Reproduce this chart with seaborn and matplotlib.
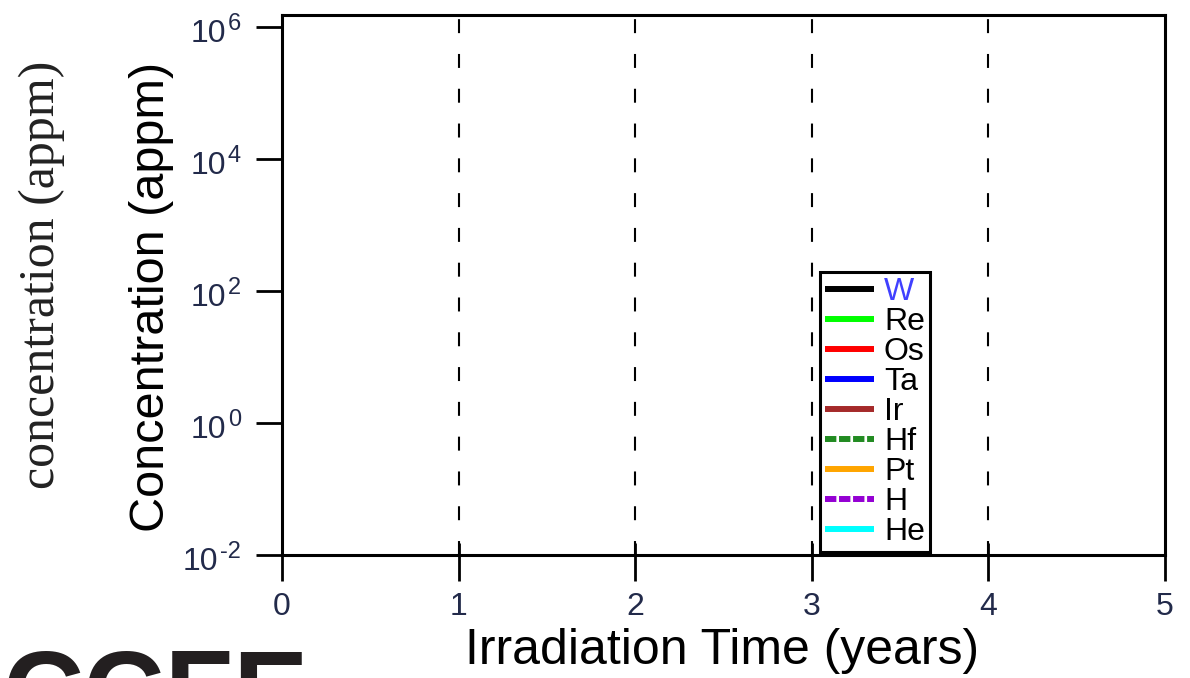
import matplotlib
matplotlib.use("Agg")
import matplotlib.pyplot as plt
from matplotlib.ticker import FixedLocator, NullLocator, NullFormatter
import seaborn as sns

# Nuclides tracked in the inventory and their concentration histories (none above range)
species = ["W", "Re", "Os", "Ta", "Ir", "Hf", "Pt", "H", "He"]
irradiation_years = []
concentration_appm = {s: [] for s in species}

x_ticks = [0, 1, 2, 3, 4, 5]
y_exponents = [-2, 0, 2, 4, 6]
marker_years = [1, 2, 3, 4]

line_colors = {
    "W": "black", "Re": "#00ff00", "Os": "#ff0000", "Ta": "#0000ff",
    "Ir": "#a52a2a", "Hf": "#228b22", "Pt": "#ffa500", "H": "#9400d3",
    "He": "#00ffff",
}
dashed = {"Hf", "H"}

sns.set_theme(style="ticks")
plt.rcParams["font.family"] = ["Liberation Sans", "DejaVu Sans"]

tick_color = "#222a4a"

fig = plt.figure(figsize=(11.9, 6.78), dpi=100)
ax = fig.add_axes([282 / 1190, 123 / 678, 883 / 1190, 540 / 678])

for s in species:
    ls = (0, (1.9, 0.45)) if s in dashed else "-"
    ax.plot(irradiation_years, concentration_appm[s], color=line_colors[s],
            lw=4.3, ls=ls, solid_capstyle="butt", dash_capstyle="butt", label=s)

for yr in marker_years:
    ax.axvline(yr, color="black", lw=1.5, ls=(0, (6.7, 10)))

ax.set_yscale("log")
ax.set_xlim(0, 5)
ax.set_ylim(1e-2, 10 ** 6.18)

ax.xaxis.set_major_locator(FixedLocator(x_ticks))
ax.xaxis.set_minor_locator(FixedLocator(x_ticks))
ax.xaxis.remove_overlapping_locs = False
y_ticks = [10.0 ** e for e in y_exponents]
ax.yaxis.set_major_locator(FixedLocator(y_ticks))
ax.yaxis.set_major_formatter(NullFormatter())
ax.yaxis.set_minor_locator(NullLocator())

for sp in ax.spines.values():
    sp.set_linewidth(2.2)
    sp.set_color("black")

ax.tick_params(axis="both", which="major", direction="out", length=18.5, width=2,
               color="black", labelsize=23, labelcolor=tick_color)
ax.tick_params(axis="x", which="major", pad=8)
ax.tick_params(axis="x", which="minor", direction="in", length=9, width=2,
               color="black", labelbottom=False)

# Power-of-ten labels: base and a large raised exponent
for e, yv in zip(y_exponents, y_ticks):
    exp_txt = ax.annotate(f"{e}", xy=(0, yv),
                          xycoords=("axes fraction", "data"),
                          xytext=(-41, -3), textcoords="offset pixels",
                          ha="right", va="baseline", fontsize=17,
                          color=tick_color, annotation_clip=False)
    ax.annotate("10", xy=(0, yv), xycoords=(exp_txt, "data"),
                xytext=(-2, -15), textcoords="offset pixels",
                ha="right", va="baseline", fontsize=23,
                color=tick_color, annotation_clip=False)

ax.set_xlabel("Irradiation Time (years)", fontsize=36, color="black")
ax.xaxis.label.set_va("baseline")
ax.xaxis.set_label_coords(0.498, -0.2019)
ax.set_ylabel("Concentration (appm)", fontsize=35, color="black")
ax.yaxis.label.set_va("center")
ax.yaxis.set_label_coords(-0.148, 0.478)

leg = ax.legend(loc="lower left", bbox_to_anchor=(0.609, 0.0056), borderaxespad=0,
                fontsize=23, frameon=True, fancybox=False, handlelength=1.56,
                handletextpad=0.3, labelspacing=0.0, borderpad=0.15)
leg.get_frame().set_edgecolor("black")
leg.get_frame().set_linewidth(2.2)
leg.get_frame().set_facecolor("white")
leg.get_frame().set_alpha(1)
for t in leg.get_texts():
    t.set_color("black")
leg.get_texts()[0].set_color("#4040ff")

fig.text(42 / 1190, 0.594, "concentration (appm)", rotation=90, ha="center",
         va="center", fontsize=36, family=["Liberation Serif", "DejaVu Serif"],
         color="#222222")

fig.text(2 / 1190, -52 / 678, "CCFE", fontsize=81, fontweight="bold",
         color="#231f20", ha="left", va="baseline")

fig.savefig("out.png", dpi=100)
